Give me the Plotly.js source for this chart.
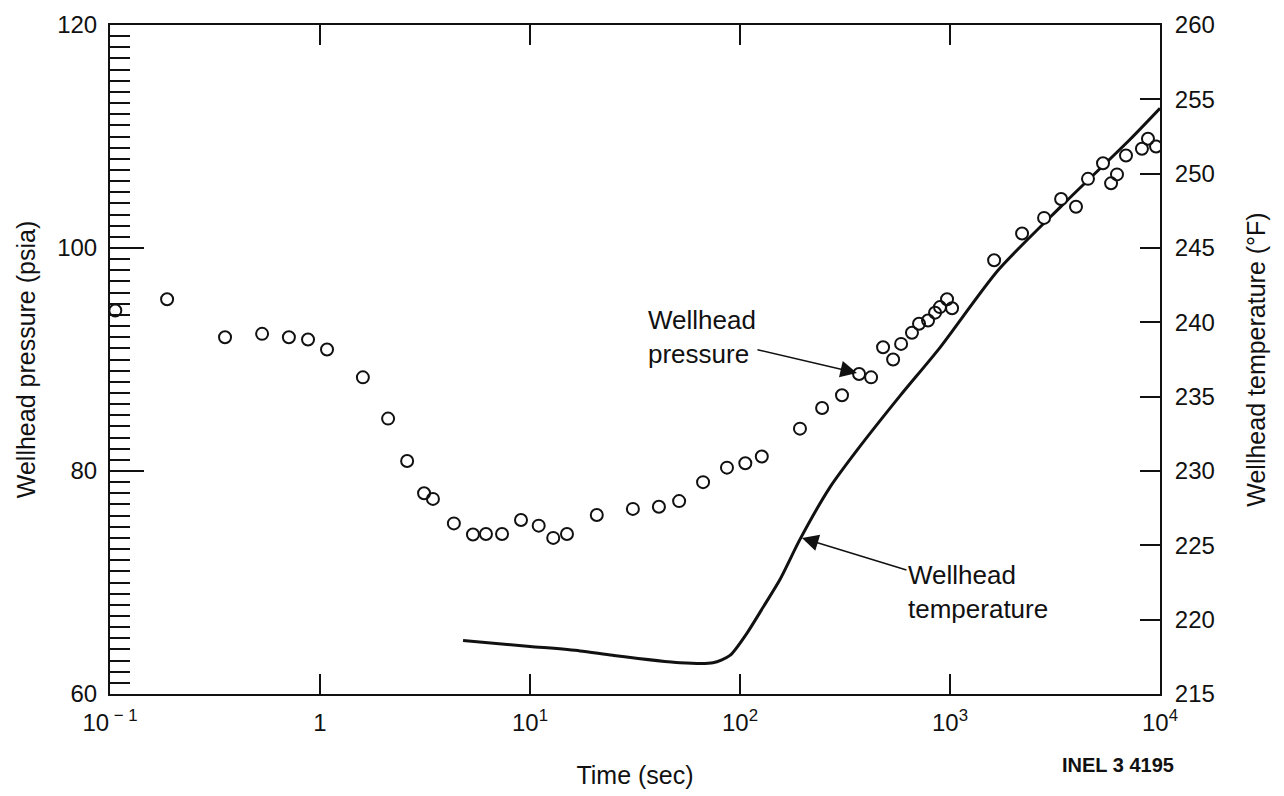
<!DOCTYPE html>
<html>
<head>
<meta charset="utf-8">
<script src="https://cdn.plot.ly/plotly-3.0.1.min.js"></script>
<style>
  html, body { margin: 0; padding: 0; background: #ffffff; }
  #chart { width: 1284px; height: 796px; }
</style>
</head>
<body>
<div id="chart"></div>
<script>
// ---- Data ----
const pressureTime = [0.106, 0.187, 0.353, 0.53, 0.711, 0.877, 1.08, 1.6, 2.11, 2.6,
  3.13, 3.45, 4.34, 5.35, 6.17, 7.36, 9.06, 11.0, 12.9, 15.0,
  20.8, 30.9, 41.1, 51.3, 66.7, 86.7, 106, 127, 193, 246,
  306, 369, 421, 480, 536, 585, 659, 712, 786, 849,
  896, 968, 1023, 1622, 2204, 2805, 3381, 3981, 4541, 5353,
  5847, 6240, 6887, 8203, 8765, 9575];
const pressurePsia = [94.4, 95.4, 92.0, 92.3, 92.0, 91.8, 90.9, 88.4, 84.7, 80.9,
  78.0, 77.5, 75.3, 74.3, 74.35, 74.35, 75.6, 75.1, 74.0, 74.35,
  76.05, 76.6, 76.8, 77.3, 79.0, 80.3, 80.7, 81.3, 83.8, 85.65,
  86.8, 88.7, 88.4, 91.1, 90.0, 91.4, 92.4, 93.2, 93.5, 94.2,
  94.7, 95.4, 94.6, 98.9, 101.3, 102.7, 104.4, 103.7, 106.2, 107.6,
  105.8, 106.6, 108.3, 108.9, 109.8, 109.1];

const temperatureTime = [4.8, 10, 17.3, 24.8, 51.8, 74.3, 89.6, 108, 129, 155,
  193, 268, 361, 578, 896, 1694, 3381, 7194, 10000];
const temperatureF = [218.6, 218.2, 217.9, 217.6, 217.1, 217.1, 217.6, 219.1, 220.85, 222.7,
  225.4, 228.9, 231.4, 235.05, 238.3, 243.5, 247.8, 252.3, 254.4];

const timeTickVals = [0.1, 1, 10, 100, 1000, 10000];
const timeTickText = ['10<sup> − 1</sup>', '1', '10<sup>1</sup>', '10<sup>2</sup>', '10<sup>3</sup>', '10<sup>4</sup>'];
const pressureTickVals = [60, 80, 100, 120];
const temperatureTickVals = [215, 220, 225, 230, 235, 240, 245, 250, 255, 260];

// ---- Chart ----
const FONT = 'Liberation Sans, Arial, Helvetica, sans-serif';
const INK = '#111111';

const traces = [
  {
    x: temperatureTime, y: temperatureF,
    xaxis: 'x', yaxis: 'y',
    mode: 'lines',
    line: { color: INK, width: 3, shape: 'spline', smoothing: 0.7 },
    name: 'Wellhead temperature',
    hoverinfo: 'x+y'
  },
  {
    // white mask under the open circles (hides the line behind markers)
    x: pressureTime, y: pressurePsia,
    xaxis: 'x', yaxis: 'y2',
    mode: 'markers',
    marker: { symbol: 'circle', size: 12, color: '#ffffff', line: { width: 0 } },
    hoverinfo: 'skip', showlegend: false
  },
  {
    x: pressureTime, y: pressurePsia,
    xaxis: 'x', yaxis: 'y2',
    mode: 'markers',
    marker: { symbol: 'circle-open', size: 12, color: INK, line: { width: 2, color: INK } },
    name: 'Wellhead pressure',
    hoverinfo: 'x+y'
  }
];

const layout = {
  width: 1284, height: 796,
  margin: { l: 110, r: 124, t: 25, b: 102 },
  paper_bgcolor: '#ffffff', plot_bgcolor: 'rgba(0,0,0,0)',
  showlegend: false,
  font: { family: FONT, color: INK, size: 24 },
  xaxis: {
    type: 'log', range: [-1, 4],
    tickmode: 'array', tickvals: timeTickVals, ticktext: timeTickText,
    ticks: 'inside', ticklen: 20, tickwidth: 2, tickcolor: INK,
    showline: true, linewidth: 2, linecolor: INK, mirror: 'ticks',
    showgrid: false, zeroline: false,
    tickfont: { family: FONT, size: 24, color: INK },
    ticklabelstandoff: 6,
    title: { text: 'Time (sec)', font: { family: FONT, size: 25, color: INK }, standoff: 32 }
  },
  yaxis: {
    side: 'right', range: [215, 260],
    tickmode: 'array', tickvals: temperatureTickVals,
    ticks: 'inside', ticklen: 20, tickwidth: 2, tickcolor: INK,
    showline: true, linewidth: 2, linecolor: INK,
    showgrid: false, zeroline: false,
    tickfont: { family: FONT, size: 24, color: INK },
    ticklabelstandoff: 8,
    title: { text: 'Wellhead temperature (°F)', font: { family: FONT, size: 25, color: INK }, standoff: 34 }
  },
  yaxis2: {
    overlaying: 'y', side: 'left', range: [60, 120],
    tickmode: 'array', tickvals: pressureTickVals,
    ticks: 'inside', ticklen: 34, tickwidth: 2, tickcolor: INK,
    minor: { dtick: 1, tick0: 60, ticks: 'inside', ticklen: 20, tickwidth: 2, tickcolor: INK, showgrid: false },
    showline: true, linewidth: 2, linecolor: INK,
    showgrid: false, zeroline: false,
    tickfont: { family: FONT, size: 24, color: INK },
    ticklabelstandoff: 6,
    title: { text: 'Wellhead pressure (psia)', font: { family: FONT, size: 25, color: INK }, standoff: 14 }
  },
  annotations: [
    {
      xref: 'x', yref: 'y2', x: 2.557, y: 88.8,
      text: 'Wellhead<br>pressure', align: 'left',
      showarrow: true, ax: -155, ay: -36,
      arrowhead: 2, arrowsize: 2.2, arrowwidth: 1.5, arrowcolor: INK,
      font: { family: FONT, size: 26, color: INK }
    },
    {
      xref: 'x', yref: 'y', x: 2.295, y: 225.5,
      text: 'Wellhead<br>temperature', align: 'left',
      showarrow: true, ax: 176, ay: 54,
      arrowhead: 2, arrowsize: 2.2, arrowwidth: 1.5, arrowcolor: INK,
      font: { family: FONT, size: 26, color: INK }
    },
    {
      xref: 'paper', yref: 'paper', x: (1118 - 110) / 1050, y: (694 - 765) / 669,
      xanchor: 'center', yanchor: 'middle',
      text: '<b>INEL 3 4195</b>', showarrow: false,
      font: { family: FONT, size: 20, color: INK }
    }
  ]
};

Plotly.newPlot('chart', traces, layout, { displayModeBar: false, staticPlot: true });
</script>
</body>
</html>
